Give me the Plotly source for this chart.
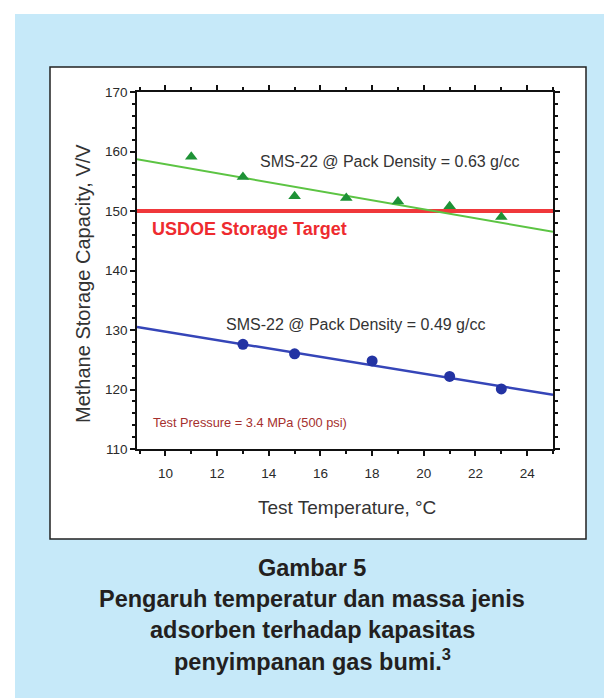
import plotly.graph_objects as go

# ---- data ----
temp_063 = [11, 13, 15, 17, 19, 21, 23]
cap_063 = [159.1, 155.7, 152.5, 152.2, 151.6, 150.8, 149.0]
temp_049 = [13, 15, 18, 21, 23]
cap_049 = [127.6, 126.0, 124.8, 122.2, 120.1]
fit_x = [8.9, 25]
fit_063 = [158.7, 146.5]
fit_049 = [130.5, 119.1]
usdoe_target = 150
x_ticks = [10, 12, 14, 16, 18, 20, 22, 24]
y_ticks = [110, 120, 130, 140, 150, 160, 170]

FONT = "Liberation Sans, Arial, sans-serif"

# page has an 8px body margin; reference pixel coords are shifted by it
OFF = 8
W, H = 612 - OFF, 698 - OFF
L, R, T, B = 137 - OFF, 553 - OFF, 92 - OFF, 449 - OFF
def px(x):
    return (x - OFF - L) / (R - L)
def py(y):
    return (B - (y - OFF)) / (B - T)

fig = go.Figure()
fig.add_trace(go.Scatter(x=fit_x, y=[usdoe_target, usdoe_target], mode="lines",
                         line=dict(color="#F0383B", width=4), hoverinfo="skip"))
fig.add_trace(go.Scatter(x=fit_x, y=fit_063, mode="lines",
                         line=dict(color="#5CC443", width=2)))
fig.add_trace(go.Scatter(x=temp_063, y=cap_063, mode="markers",
                         marker=dict(symbol="triangle-up", size=11, color="#1E9236")))
fig.add_trace(go.Scatter(x=fit_x, y=fit_049, mode="lines",
                         line=dict(color="#3545B8", width=2.5)))
fig.add_trace(go.Scatter(x=temp_049, y=cap_049, mode="markers",
                         marker=dict(symbol="circle", size=11, color="#2333A3")))

axis_common = dict(showline=True, linecolor="#111", linewidth=1.5, mirror="allticks",
                   ticks="outside", ticklen=5, tickwidth=1.5, tickcolor="#111",
                   showgrid=False, zeroline=False,
                   tickfont=dict(family=FONT, size=13.5, color="#2a2a2a"))
fig.update_xaxes(range=[fit_x[0], fit_x[1]], tickvals=x_ticks, ticklabelstandoff=6,
                 minor=dict(dtick=1, ticks="outside", ticklen=3, tickcolor="#111", showgrid=False),
                 **axis_common)
fig.update_yaxes(range=[110, 170], tickvals=y_ticks,
                 minor=dict(dtick=2, ticks="outside", ticklen=3, tickcolor="#111", showgrid=False),
                 **axis_common)

shapes = [
    # light blue panel
    dict(type="rect", xref="paper", yref="paper", layer="below",
         x0=px(15), x1=px(660), y0=py(740), y1=py(14),
         fillcolor="#C6E9F9", line=dict(width=0)),
    # white chart box
    dict(type="rect", xref="paper", yref="paper", layer="below",
         x0=px(50), x1=px(586), y0=py(539), y1=py(67),
         fillcolor="white", line=dict(color="#222", width=1.5)),
]

C = dict(xanchor="center", yanchor="middle", showarrow=False)
ann = [
    dict(x=18.66, y=158.3, xref="x", yref="y", text="SMS-22 @ Pack Density = 0.63 g/cc",
         font=dict(family=FONT, size=16, color="#333"), **C),
    dict(x=17.35, y=131.0, xref="x", yref="y", text="SMS-22 @ Pack Density = 0.49 g/cc",
         font=dict(family=FONT, size=16, color="#333"), **C),
    dict(x=px(150), y=146.9, xref="paper", yref="y", xanchor="left", yanchor="middle",
         text="<b>USDOE Storage Target</b>", showarrow=False,
         font=dict(family=FONT, size=18, color="#EE2B2F")),
    dict(x=px(151), y=114.4, xref="paper", yref="y", xanchor="left", yanchor="middle",
         text="Test Pressure = 3.4 MPa (500 psi)", showarrow=False,
         font=dict(family=FONT, size=12.8, color="#A5302E")),
    dict(x=px(347), y=py(507), xref="paper", yref="paper", text="Test Temperature, °C",
         font=dict(family=FONT, size=19, color="#333"), **C),
    dict(x=px(83), y=py(284), xref="paper", yref="paper", textangle=-90,
         text="Methane Storage Capacity, V/V",
         font=dict(family=FONT, size=20, color="#333"), **C),
]
caption = ["<b>Gambar 5</b>",
           "<b>Pengaruh temperatur dan massa jenis</b>",
           "<b>adsorben terhadap kapasitas</b>",
           "<b>penyimpanan gas bumi.<sup>3</sup></b>"]
for line, yy in zip(caption, [568, 599, 630, 660]):
    ann.append(dict(x=px(312), y=py(yy), xref="paper", yref="paper", text=line,
                    font=dict(family=FONT, size=23.5, color="#231F20"), **C))

fig.update_layout(width=W, height=H, margin=dict(l=L, r=W - R, t=T, b=H - B),
                  paper_bgcolor="white", plot_bgcolor="white", showlegend=False,
                  shapes=shapes, annotations=ann)
fig.write_html("out.html")
